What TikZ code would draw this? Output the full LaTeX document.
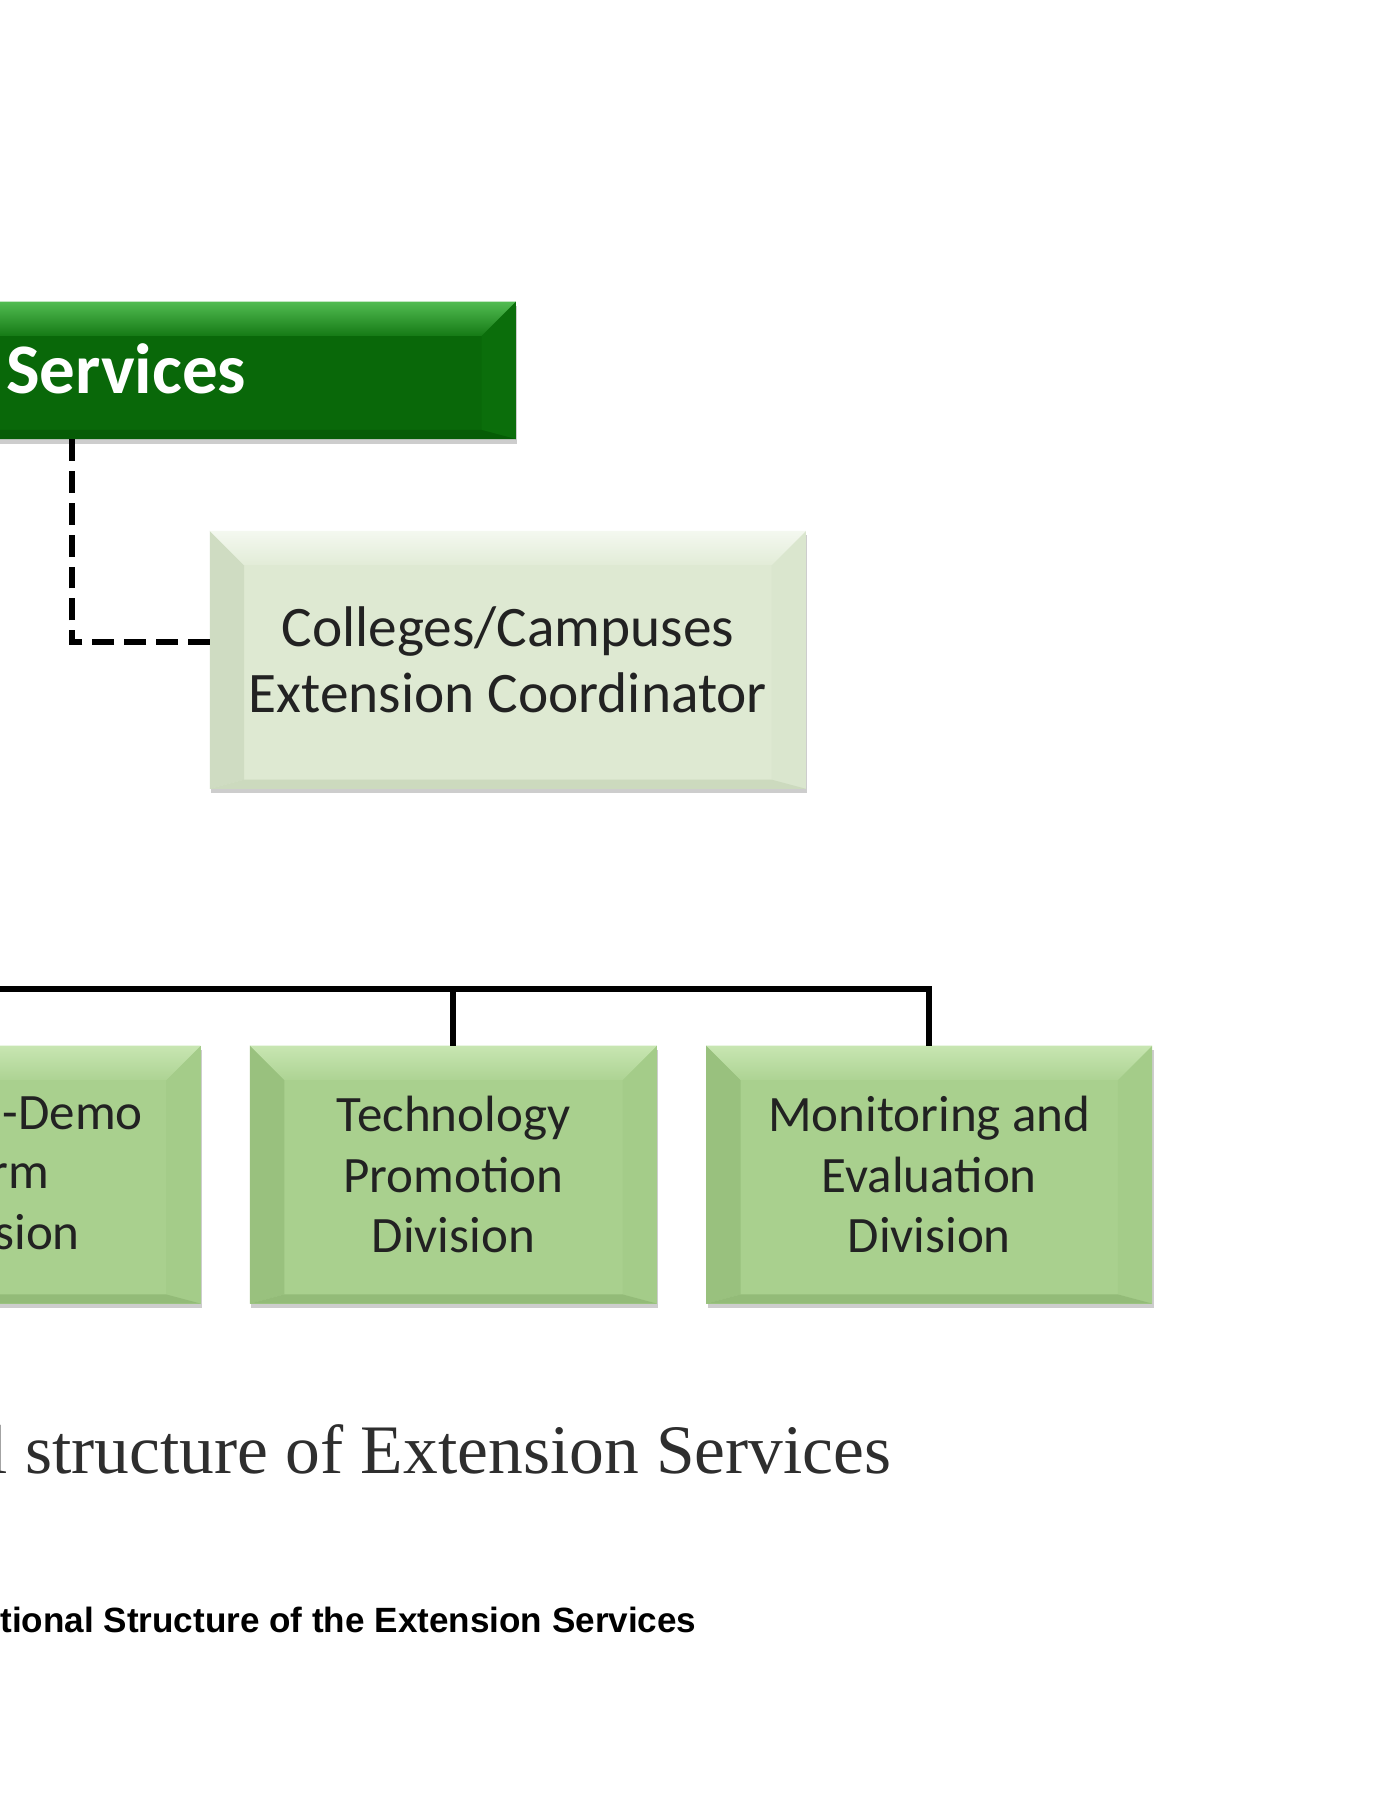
\documentclass[tikz,border=0pt]{standalone}
\usepackage{fontspec}
\setmainfont{Liberation Serif}
\newfontfamily\calfont{Carlito}
\newfontfamily\arfont{Liberation Sans}
\usetikzlibrary{shadows}
\definecolor{lgtface}{HTML}{DEE9D2}
\definecolor{lgttopA}{HTML}{F4F8F0}
\definecolor{lgttopB}{HTML}{E2ECD7}
\definecolor{lgtleft}{HTML}{CFDCC2}
\definecolor{lgtright}{HTML}{DAE6CE}
\definecolor{lgtbottom}{HTML}{CCDABE}
\definecolor{midface}{HTML}{A9D08E}
\definecolor{midtopA}{HTML}{C8E6B2}
\definecolor{midtopB}{HTML}{ADD393}
\definecolor{midleft}{HTML}{99C17E}
\definecolor{midright}{HTML}{A4CC89}
\definecolor{midbottom}{HTML}{93BB78}
\definecolor{grnface}{HTML}{096809}
\definecolor{grntopA}{HTML}{52BC52}
\definecolor{grntopB}{HTML}{157A15}
\definecolor{grnleft}{HTML}{086208}
\definecolor{grnright}{HTML}{0B6E0B}
\definecolor{grnbottom}{HTML}{065C06}
\definecolor{boxtext}{HTML}{222222}
\newcommand\bvs{15pt}
\newcommand\bvt{15pt}
\newcommand\bvb{4pt}
\tikzset{
  bevelbox/.style={fill=#1face, draw=none, inner sep=0pt, outer sep=0pt,
    drop shadow={shadow xshift=0.6pt, shadow yshift=-2pt, opacity=0.28, fill=black!70},
    path picture={
      \fill[#1left] (path picture bounding box.north west) -- ([shift={(\bvs,-\bvt)}]path picture bounding box.north west)
        -- ([shift={(\bvs,\bvb)}]path picture bounding box.south west) -- (path picture bounding box.south west) -- cycle;
      \fill[#1right] (path picture bounding box.north east) -- ([shift={(-\bvs,-\bvt)}]path picture bounding box.north east)
        -- ([shift={(-\bvs,\bvb)}]path picture bounding box.south east) -- (path picture bounding box.south east) -- cycle;
      \fill[#1bottom] (path picture bounding box.south west) -- ([shift={(\bvs,\bvb)}]path picture bounding box.south west)
        -- ([shift={(-\bvs,\bvb)}]path picture bounding box.south east) -- (path picture bounding box.south east) -- cycle;
      \shade[top color=#1topA, bottom color=#1topB] (path picture bounding box.north west) -- (path picture bounding box.north east)
        -- ([shift={(-\bvs,-\bvt)}]path picture bounding box.north east)
        -- ([shift={(\bvs,-\bvt)}]path picture bounding box.north west) -- cycle;
    }},
  coordbox/.style={bevelbox=lgt, text=boxtext, align=center,
    font=\calfont\fontsize{25}{29}\selectfont},
  divbox/.style={bevelbox=mid, text=boxtext, align=center,
    minimum height=112.5pt, font=\calfont\fontsize{22.25}{26.25}\selectfont},
  divfrag/.style={anchor=base east, text=boxtext, inner sep=0pt,
    font=\calfont\fontsize{22.25}{26.25}\selectfont},
  dashline/.style={line width=2.6pt, dash pattern=on 9.5pt off 4.4pt, black},
  treeline/.style={line width=2.6pt, black}
}
\begin{document}
\begin{tikzpicture}[x=0.5pt,y=-0.5pt]
\useasboundingbox (0,0) rectangle (1200,1570);
\clip (0,0) rectangle (1200,1570);
\fill[white] (0,0) rectangle (1200,1570);

% top green box (cut at left edge)
\node[bevelbox=grn, minimum width=300pt, minimum height=60pt] (dir) at (150,323) {};
\node[anchor=base west, inner sep=0pt, text=white,
      font=\calfont\bfseries\fontsize{31}{31}\selectfont] (dirlabel) at (5,343) {Services};

% coordinator box
\node[coordbox, minimum width=260pt, minimum height=112.5pt] (coord) at (443,575.5)
  {Colleges/Campuses\\Extension Coordinator};

% dashed link
\coordinate (dv) at (63,560);
\draw[dashline] (dv -| coord.west) -- (dv) -- (dir.south -| dv);

% division boxes
\node[divbox, minimum width=177.5pt] (agro) at (-2.5,1024.5) {};
\node[divfrag] (agro1) at (125,985) {-Demo};
\node[divfrag] (agro2) at (43,1037) {rm};
\node[divfrag] (agro3) at (70,1090) {sion};
\node[divbox, minimum width=177.5pt] (tech) at (395.5,1024.5) {Technology\\Promotion\\Division};
\node[divbox, minimum width=194.5pt] (mon) at (810.5,1024.5) {Monitoring and\\Evaluation\\Division};

% tree connector
\coordinate (busL) at (-20,863);
\draw[treeline] (busL) -| (mon.north);
\draw[treeline] (tech.north |- busL) -- (tech.north);

% captions
\node[anchor=base east, inner sep=0pt, text=black!82,
      font=\fontsize{30.3}{32}\selectfont] (cap1) at (778,1285) {l structure of Extension Services};
\node[anchor=base west, inner sep=0pt, text=black,
      font=\arfont\bfseries\fontsize{15.3}{16}\selectfont] (cap2) at (0,1424) {tional Structure of the Extension Services};
\end{tikzpicture}
\end{document}
